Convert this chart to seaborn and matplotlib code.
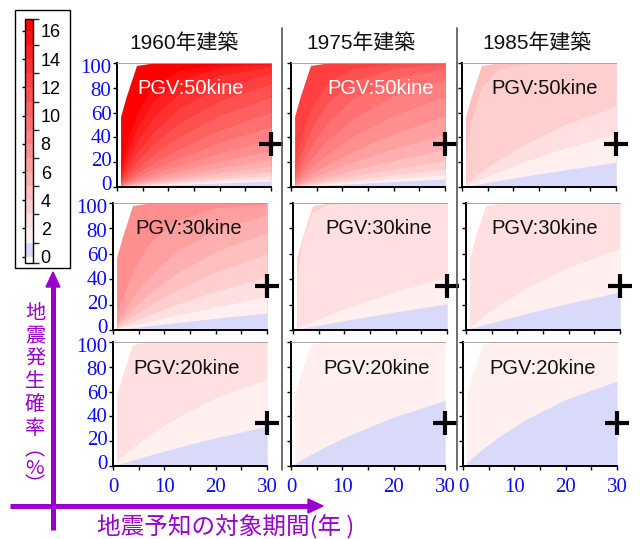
import numpy as np
import matplotlib as mpl
import matplotlib.pyplot as plt
import seaborn as sns
from matplotlib.colors import ListedColormap, BoundaryNorm
from matplotlib.patches import Rectangle, Polygon

sns.set_theme(style='white')
plt.rcParams['font.family'] = ['Liberation Sans', 'Noto Sans CJK JP', 'DejaVu Sans']

W, H = 643, 539
purple = '#9900cc'
tickblue = '#0a0aff'

years = ['1960年建築', '1975年建築', '1985年建築']
pgv_labels = ['PGV:50kine', 'PGV:30kine', 'PGV:20kine']
ylabel_chars = ['地', '震', '発', '生', '確', '率']
ylabel_unit = '︵\n%\n︶'
xlabel = '地震予知の対象期間(年 )'

# x (years) where the level boundaries are read
x_pts = [0.7, 1.8, 3.8, 7, 12, 20, 30]
# upper edge of the filled area (white above it)
top_edge = [57, 73, 98, 100, 100, 100, 100]

# y (%) of boundaries between levels 0|1, 1|2, 2|3 ... at x_pts
b60_50 = [[0.12, 0.30, 0.63, 1.16, 1.97, 3.27, 4.86],
          [0.16, 0.41, 0.87, 1.59, 2.71, 4.48, 6.65],
          [0.22, 0.57, 1.20, 2.20, 3.75, 6.17, 9.1],
          [0.31, 0.79, 1.65, 3.03, 5.13, 8.4, 12.3],
          [0.42, 1.08, 2.28, 4.15, 7.0, 11.4, 16.6],
          [0.58, 1.49, 3.12, 5.68, 9.5, 15.4, 22.2],
          [0.81, 2.07, 4.32, 7.8, 13.0, 20.7, 29.4],
          [1.12, 2.84, 5.91, 10.6, 17.5, 27.4, 38.2],
          [1.54, 3.91, 8.07, 14.4, 23.3, 35.8, 48.5],
          [2.12, 5.37, 11.0, 19.3, 30.8, 45.8, 60.1],
          [2.96, 7.43, 15.0, 25.9, 40.2, 57.6, 72.4],
          [4.08, 10.2, 20.2, 34.1, 51.1, 69.6, 83.2],
          [5.65, 13.9, 27.1, 44.1, 63.1, 81.0, 91.7],
          [7.8, 18.9, 35.8, 55.8, 75.3, 90.3, 97.0],
          [10.9, 25.7, 46.6, 68.5, 86.2, 96.3, 99.3],
          [15.2, 34.6, 59.2, 80.8, 94.1, 99.1, 99.9]]
b75_50 = [[0.16, 0.40, 0.85, 1.56, 2.65, 4.39, 6.5],
          [0.24, 0.61, 1.29, 2.36, 4.02, 6.60, 9.74],
          [0.36, 0.93, 1.95, 3.57, 6.04, 9.87, 14.4],
          [0.55, 1.42, 2.97, 5.39, 9.07, 14.6, 21.2],
          [0.84, 2.15, 4.48, 8.10, 13.5, 21.5, 30.4],
          [1.28, 3.27, 6.78, 12.1, 19.9, 30.9, 42.5],
          [1.95, 4.95, 10.2, 17.9, 28.7, 43.1, 57.1],
          [2.98, 7.49, 15.1, 26.1, 40.5, 57.9, 72.6],
          [4.55, 11.3, 22.4, 37.2, 55.0, 73.6, 86.4],
          [6.97, 16.9, 32.4, 51.4, 71.0, 87.3, 95.5],
          [10.7, 25.2, 45.8, 67.7, 85.6, 96.0, 99.2],
          [16.5, 37.1, 62.4, 83.5, 95.5, 99.4, 100]]
b85_50 = [[0.52, 1.33, 2.79, 5.07, 8.54, 13.8, 20.0],
          [1.31, 3.32, 6.89, 12.3, 20.2, 31.3, 43.1],
          [2.42, 6.11, 12.5, 21.7, 34.3, 50.3, 65.0],
          [26.0, 53.9, 80.5, 95.1, 99.4, 100, 100]]
b60_30 = [[0.34, 0.87, 1.82, 3.33, 5.65, 9.2, 13.5],
          [0.70, 1.79, 3.75, 6.79, 11.4, 18.2, 26.0],
          [1.26, 3.22, 6.67, 11.9, 19.6, 30.5, 42.0],
          [2.12, 5.35, 11.0, 19.3, 30.7, 45.7, 60.0],
          [3.31, 8.30, 16.7, 28.6, 43.9, 61.8, 76.4],
          [5.31, 13.1, 25.6, 42.1, 60.8, 79.0, 90.4],
          [10.8, 25.4, 46.1, 67.9, 85.8, 96.1, 99.2]]
b75_30 = [[0.54, 1.37, 2.88, 5.24, 8.8, 14.3, 20.6],
          [1.26, 3.20, 6.63, 11.9, 19.5, 30.3, 41.8],
          [38.4, 71.3, 92.8, 99.2, 100, 100, 100]]
b85_30 = [[0.83, 2.11, 4.41, 7.97, 13.3, 21.1, 29.9],
          [2.36, 5.95, 12.1, 21.2, 33.6, 49.4, 64.0]]
b60_20 = [[0.90, 2.29, 4.78, 8.6, 14.3, 22.7, 32.1],
          [4.0, 8.0, 14.8, 24.8, 38.2, 55.2, 70.0]]
b75_20 = [[1.74, 4.42, 9.1, 16.1, 26.0, 39.5, 52.9]]
b85_20 = [[2.66, 6.70, 13.6, 23.6, 37.0, 53.7, 68.5]]

bounds = [[b60_50, b75_50, b85_50],
          [b60_30, b75_30, b85_30],
          [b60_20, b75_20, b85_20]]

plus_x, plus_y = 30, 35
cbar_ticks = list(range(0, 17, 2))


def band_color(k):
    if k == 0:
        return (0.85, 0.85, 0.98)
    v = max(0.0, 1 - k / 16)
    return (1.0, v, v)


fig = plt.figure(figsize=(W / 100, H / 100), dpi=100)


def px_axes(left, top, width, height, **kw):
    return fig.add_axes([left / W, 1 - (top + height) / H, width / W, height / H], **kw)


row_tb = [(63, 187), (203, 330), (342, 466)]
col_left = [[117, 291, 462], [113, 293, 466], [113, 291, 463]]
pw = 154

for r in range(3):
    for c in range(3):
        top, bot = row_tb[r]
        ax = px_axes(col_left[r][c], top, pw, bot - top)
        ax.set_facecolor('white')
        x = np.array(x_pts, float)
        ceil = np.array(top_edge, float)
        edges = [np.minimum(np.array(b, float), ceil) for b in bounds[r][c]] + [ceil]
        for k in range(len(edges) - 1, -1, -1):
            ax.fill_between(x, 0, edges[k], color=band_color(k), lw=0)

        ax.set_xlim(0, 30)
        ax.set_ylim(0, 100)
        ax.set_xticks([0, 10, 20, 30])
        ax.set_xticks([5, 15, 25], minor=True)
        ax.set_yticks(range(0, 101, 20))
        ax.tick_params(which='both', direction='out', length=3, width=1, color='black',
                       bottom=True, left=True, top=False, right=False,
                       labelleft=False, labelbottom=(r == 2), labelsize=15,
                       labelcolor=tickblue, pad=5.5)
        for lab in ax.get_xticklabels():
            lab.set_family('Liberation Serif')
        for s in ['left', 'bottom']:
            ax.spines[s].set_color('black')
            ax.spines[s].set_linewidth(1.4)
        ax.spines['top'].set_color('#999999')
        ax.spines['top'].set_linewidth(0.6)
        ax.spines['right'].set_visible(False)

        if c == 0:
            for v in range(0, 101, 20):
                ax.annotate(str(v), xy=(0, 1.5 + 0.94 * v), xycoords=('axes fraction', 'data'),
                            xytext=(-4, 0), textcoords='offset points', ha='right', va='center',
                            fontsize=15, color=tickblue, family='Liberation Serif',
                            annotation_clip=False)

        ax.plot([plus_x], [plus_y], marker='+', ms=17, mew=3, color='black',
                clip_on=False, zorder=5)

# colour bar
cax = px_axes(25, 19, 8, 244)
levels = [-0.45, 0] + list(range(1, 17)) + [16.85]
colors = ['white'] + [band_color(k) for k in range(17)]
cmap = ListedColormap(colors)
norm = BoundaryNorm(levels, cmap.N)
cb = fig.colorbar(mpl.cm.ScalarMappable(norm=norm, cmap=cmap), cax=cax,
                  ticks=cbar_ticks, spacing='proportional')
cb.outline.set_edgecolor('black')
cb.outline.set_linewidth(1)
cax.tick_params(left=True, right=False, labelleft=False, labelright=True,
                direction='inout', length=5, width=1, labelsize=13, pad=3,
                colors='black')

# overlay for texts, separators and arrows (pixel coordinates)
ov = fig.add_axes([0, 0, 1, 1], zorder=10)
ov.set_xlim(0, W)
ov.set_ylim(H, 0)
ov.axis('off')
ov.patch.set_alpha(0)

ov.add_patch(Rectangle((15, 10), 55, 258, fill=False, ec='black', lw=1))
for sx in [282, 457]:
    ov.plot([sx, sx], [28, 470], color='#555555', lw=1.2)

for title, tx in zip(years, [184, 361, 537]):
    ov.text(tx, 43, title, ha='center', va='center', fontsize=15, color='#111111')

pgv_pos = [[(137, 89), (327, 88), (491, 88)],
           [(135, 228), (325, 228), (491, 228)],
           [(133, 369), (323, 369), (489, 368)]]
for r in range(3):
    for c in range(3):
        px, py = pgv_pos[r][c]
        col = 'white' if (r == 0 and c < 2) else '#111111'
        ov.text(px, py, pgv_labels[r], ha='left', va='center', fontsize=14.5, color=col)

ych_y = [313, 336, 359, 382, 405, 428]
for ch, yy in zip(ylabel_chars, ych_y):
    ov.text(35, yy, ch, ha='center', va='center', fontsize=14.5, color=purple,
            family=['Noto Sans CJK JP', 'DejaVu Sans'])
ov.text(35, 468, ylabel_unit, ha='center', va='center', ma='center', fontsize=14.5,
        color=purple, linespacing=0.8, family=['Noto Sans CJK JP', 'DejaVu Sans'])

ov.text(226, 526, xlabel, ha='center', va='center', fontsize=17, color=purple,
        family=['Noto Sans CJK JP', 'DejaVu Sans'])

ov.plot([53, 53], [530, 286], color=purple, lw=3.6, solid_capstyle='butt')
ov.add_patch(Polygon([[46, 287], [60, 287], [53, 272]], closed=True, color=purple))
ov.plot([10, 309], [506, 506], color=purple, lw=3.6, solid_capstyle='butt')
ov.add_patch(Polygon([[308, 499], [308, 513], [323, 506]], closed=True, color=purple))

fig.savefig('out.png', dpi=100)
